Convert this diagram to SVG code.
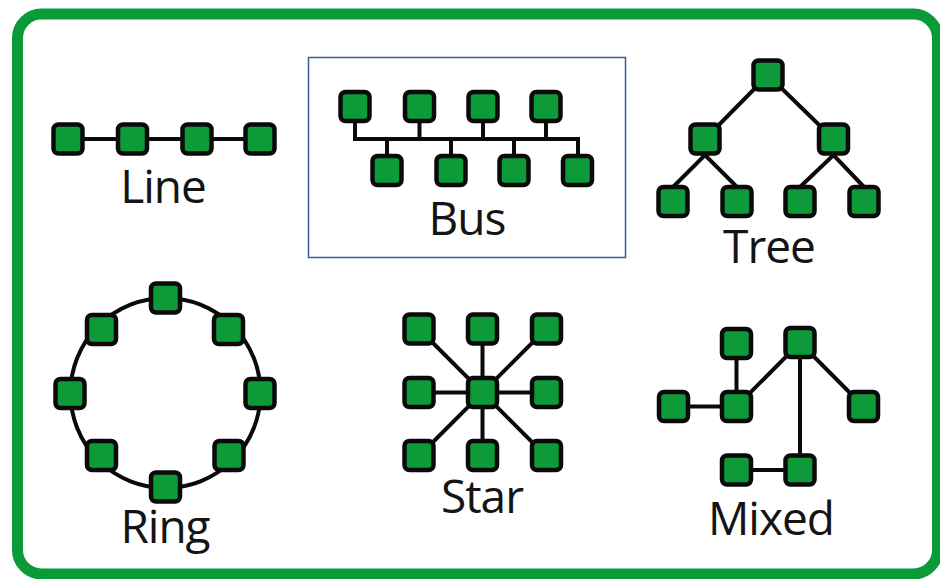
<svg xmlns="http://www.w3.org/2000/svg" width="940" height="579" viewBox="0 0 940 579">
<style>
.n{fill:#0e9a38;stroke:#0a0a0a;stroke-width:4.5}
.c{stroke:#0a0a0a;stroke-width:4;fill:none}
.t{font-family:"Open Sans","Noto Sans",sans-serif;font-size:46px;fill:#141414;text-anchor:middle;letter-spacing:-1px}
</style>
<defs>
<rect id="nd" class="n" x="-14.5" y="-14.5" width="29" height="29" rx="5"/>
</defs>
<rect x="0" y="0" width="940" height="579" fill="#ffffff"/>
<rect id="frame" x="17.5" y="14" width="920" height="560" rx="24" fill="none" stroke="#0a9a38" stroke-width="11"/>
<rect id="bus-box" x="308.5" y="57.5" width="317" height="200" fill="none" stroke="#3b5c98" stroke-width="1.5"/>

<g id="connectors">
<!-- Line -->
<path class="c" d="M68 139H260"/>
<!-- Bus -->
<path class="c" d="M355 106V139H578V170M419.5 106V139M483 106V139M546 106V139M387 170V139M451 170V139M514 170V139"/>
<!-- Tree -->
<path class="c" d="M705 139L768 75L833.5 139M673 187L705 155L737 187M800 187L833.5 155L864 187"/>
<!-- Ring -->
<circle class="c" cx="165.5" cy="393" r="95"/>
<!-- Star -->
<path class="c" d="M419 329L546 456M546 329L419 456M482.5 329V456M419 392.5H546"/>
<!-- Mixed -->
<path class="c" d="M736.5 343.5V406.5M673.5 406.5H736.5L800 342.5L863.5 406.5M800 342.5V470M736.5 470H800"/>
</g>

<g id="line">
<use href="#nd" x="68" y="139"/><use href="#nd" x="132.5" y="139"/><use href="#nd" x="197" y="139"/><use href="#nd" x="260" y="139"/>
<text class="t" x="163" y="203">Line</text>
</g>
<g id="bus">
<use href="#nd" x="355" y="106.5"/><use href="#nd" x="419.5" y="106.5"/><use href="#nd" x="483" y="106.5"/><use href="#nd" x="546" y="106.5"/>
<use href="#nd" x="387" y="170.5"/><use href="#nd" x="451" y="170.5"/><use href="#nd" x="514" y="170.5"/><use href="#nd" x="577.5" y="170.5"/>
<text class="t" x="467" y="235">Bus</text>
</g>
<g id="tree">
<use href="#nd" x="768" y="75"/>
<use href="#nd" x="705" y="139"/><use href="#nd" x="833.5" y="139"/>
<use href="#nd" x="673" y="201.5"/><use href="#nd" x="737" y="201.5"/><use href="#nd" x="800" y="201.5"/><use href="#nd" x="864" y="201.5"/>
<text class="t" x="769" y="263">Tree</text>
</g>
<g id="ring">
<use href="#nd" x="165.5" y="298"/><use href="#nd" x="228.5" y="329.5"/><use href="#nd" x="260" y="393.5"/><use href="#nd" x="229" y="455.5"/>
<use href="#nd" x="165.5" y="487"/><use href="#nd" x="101.5" y="455.5"/><use href="#nd" x="70" y="393.5"/><use href="#nd" x="101.5" y="329.5"/>
<text class="t" x="165" y="543">Ring</text>
</g>
<g id="star">
<use href="#nd" x="419" y="329"/><use href="#nd" x="482.5" y="329"/><use href="#nd" x="546.5" y="329"/>
<use href="#nd" x="419" y="392.5"/><use href="#nd" x="482.5" y="392.5"/><use href="#nd" x="546.5" y="392.5"/>
<use href="#nd" x="419" y="455.5"/><use href="#nd" x="482.5" y="455.5"/><use href="#nd" x="546.5" y="455.5"/>
<text class="t" x="482" y="513">Star</text>
</g>
<g id="mixed">
<use href="#nd" x="736.5" y="343.5"/><use href="#nd" x="800" y="342.5"/>
<use href="#nd" x="673.5" y="406.5"/><use href="#nd" x="736.5" y="406.5"/><use href="#nd" x="863.5" y="406.5"/>
<use href="#nd" x="736.5" y="470"/><use href="#nd" x="800" y="470"/>
<text class="t" x="771" y="535">Mixed</text>
</g>
</svg>
